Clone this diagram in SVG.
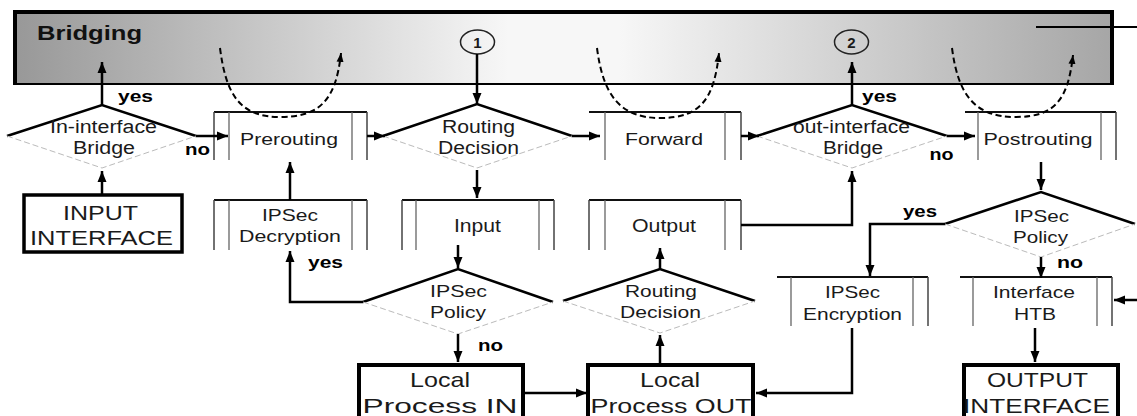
<svg xmlns="http://www.w3.org/2000/svg" width="1137" height="416" viewBox="0 0 1137 416">
<defs>
<linearGradient id="bg" x1="0" y1="0" x2="1" y2="0">
<stop offset="0" stop-color="#989898"/>
<stop offset="0.45" stop-color="#f7f7f7"/>
<stop offset="0.55" stop-color="#f7f7f7"/>
<stop offset="1" stop-color="#a6a6a6"/>
</linearGradient>
<marker id="ah" markerUnits="userSpaceOnUse" markerWidth="12" markerHeight="10" refX="11" refY="5" orient="auto">
<path d="M0,0.5 L11,5 L0,9.5 z" fill="#000"/>
</marker>
<marker id="ahs" markerUnits="userSpaceOnUse" markerWidth="10" markerHeight="8" refX="9" refY="4" orient="auto">
<path d="M0,0.5 L9,4 L0,7.5 z" fill="#000"/>
</marker>
</defs>
<style>
text{font-family:"Liberation Sans",Arial,sans-serif;fill:#1a1a1a;text-anchor:middle}
.t{font-size:17px}
.big{font-size:21px}
.lb{font-size:16px;font-weight:bold;fill:#000}
.top{fill:none;stroke:#000;stroke-width:2.5}
.bot{fill:none;stroke:#bbb;stroke-width:1;stroke-dasharray:6 3}
.bt{fill:none;stroke:#111;stroke-width:2}
.bo{fill:none;stroke:#444;stroke-width:1.5}
.bi{fill:none;stroke:#666;stroke-width:1.3}
.thick{fill:none;stroke:#000;stroke-width:4}
.c{fill:none;stroke:#000;stroke-width:2.5;marker-end:url(#ah)}
.cn{fill:none;stroke:#000;stroke-width:2.5}
.d{fill:none;stroke:#000;stroke-width:2;stroke-dasharray:6 3.5;marker-end:url(#ahs)}
</style>

<g id="bridging">
<rect x="15" y="12" width="1097" height="72" fill="url(#bg)" stroke="#000" stroke-width="2"/>
<rect x="13" y="10" width="1101" height="4" fill="#000"/>
<rect x="13" y="10" width="4" height="75" fill="#000"/>
<rect x="1110" y="10" width="4" height="75" fill="#000"/>
<text x="37" y="40" style="font-size:20px;font-weight:bold;text-anchor:start;fill:#111" textLength="105" lengthAdjust="spacingAndGlyphs">Bridging</text>
</g>

<g id="mark1">
<ellipse cx="477.5" cy="42" rx="17" ry="12" fill="none" stroke="#222" stroke-width="1.5"/>
<text x="477.5" y="47.5" style="font-size:15px;font-weight:bold">1</text>
</g>
<g id="mark2">
<ellipse cx="851.5" cy="42" rx="17" ry="12" fill="none" stroke="#222" stroke-width="1.5"/>
<text x="851.5" y="47.5" style="font-size:15px;font-weight:bold">2</text>
</g>

<g id="in-bridge">
<path class="top" d="M7,136 L102,105 L196,136"/>
<path class="bot" d="M7,136 L102,168 L196,136"/>
<text class="t" x="103.5" y="133" style="font-size:18px" textLength="107" lengthAdjust="spacingAndGlyphs">In-interface</text>
<text class="t" x="104" y="154" style="font-size:18px" textLength="62" lengthAdjust="spacingAndGlyphs">Bridge</text>
</g>

<g id="input-interface">
<rect class="thick" x="24" y="195" width="158" height="57" style="stroke-width:3.5"/>
<text class="big" x="100.5" y="220" textLength="75" lengthAdjust="spacingAndGlyphs">INPUT</text>
<text class="big" x="101.5" y="245" textLength="143" lengthAdjust="spacingAndGlyphs">INTERFACE</text>
</g>

<g id="prerouting">
<path class="bt" d="M214,112 H367"/>
<path class="bo" d="M214,112 V160 M367,112 V160"/>
<path class="bi" d="M229,112 V160 M352,112 V160"/>
<text class="t" x="289" y="144.5" textLength="98" lengthAdjust="spacingAndGlyphs">Prerouting</text>
</g>

<g id="routing1">
<path class="top" d="M383,136 L477,104 L572,136"/>
<path class="bot" d="M383,136 L477,168 L572,136"/>
<text class="t" x="478.5" y="133" style="font-size:18px" textLength="73" lengthAdjust="spacingAndGlyphs">Routing</text>
<text class="t" x="478.5" y="154" style="font-size:18px" textLength="81" lengthAdjust="spacingAndGlyphs">Decision</text>
</g>

<g id="forward">
<path class="bt" d="M589,112 H741"/>
<path class="bo" d="M741,112 V160"/>
<path class="bi" d="M605,112 V160 M725,112 V160"/>
<text class="t" x="664" y="144.5" textLength="78" lengthAdjust="spacingAndGlyphs">Forward</text>
</g>

<g id="out-bridge">
<path class="top" d="M757,136 L852,105 L947,136"/>
<path class="bot" d="M757,136 L852,168 L947,136"/>
<text class="t" x="851.5" y="133" style="font-size:18px" textLength="117" lengthAdjust="spacingAndGlyphs">out-interface</text>
<text class="t" x="853" y="154" style="font-size:18px" textLength="60" lengthAdjust="spacingAndGlyphs">Bridge</text>
</g>

<g id="postrouting">
<path class="bt" d="M965,112 H1116"/>
<path class="bo" d="M1116,112 V160"/>
<path class="bi" d="M978,112 V160 M1101,112 V160"/>
<text class="t" x="1038" y="144.5" textLength="109" lengthAdjust="spacingAndGlyphs">Postrouting</text>
</g>

<g id="ipsec-decryption">
<path class="bt" d="M214,200 H367"/>
<path class="bo" d="M214,200 V250 M367,200 V250"/>
<path class="bi" d="M229,200 V250 M352,200 V250"/>
<text class="t" x="290" y="221" textLength="56" lengthAdjust="spacingAndGlyphs">IPSec</text>
<text class="t" x="290" y="242" textLength="102" lengthAdjust="spacingAndGlyphs">Decryption</text>
</g>

<g id="input">
<path class="bt" d="M402,200 H554"/>
<path class="bo" d="M402,200 V250 M554,200 V250"/>
<path class="bi" d="M416,200 V250 M539,200 V250"/>
<text class="t" x="477.5" y="232" style="font-size:18px" textLength="47" lengthAdjust="spacingAndGlyphs">Input</text>
</g>

<g id="output">
<path class="bt" d="M589,200 H741"/>
<path class="bo" d="M589,200 V250 M741,200 V250"/>
<path class="bi" d="M605,200 V250 M725,200 V250"/>
<text class="t" x="664" y="232" style="font-size:18px" textLength="64" lengthAdjust="spacingAndGlyphs">Output</text>
</g>

<g id="ipsec-policy-in">
<path class="top" d="M363,302 L458,269 L553,302"/>
<path class="bot" d="M363,302 L458,334 L553,302"/>
<text class="t" x="458.5" y="297" textLength="57" lengthAdjust="spacingAndGlyphs">IPSec</text>
<text class="t" x="458" y="318" textLength="56" lengthAdjust="spacingAndGlyphs">Policy</text>
</g>

<g id="routing2">
<path class="top" d="M563,301 L660,269 L755,301"/>
<path class="bot" d="M563,301 L660,333 L755,301"/>
<text class="t" x="661" y="297" textLength="72" lengthAdjust="spacingAndGlyphs">Routing</text>
<text class="t" x="660.5" y="318" textLength="81" lengthAdjust="spacingAndGlyphs">Decision</text>
</g>

<g id="local-in">
<path class="thick" d="M359,418 V365 H523 V418"/>
<text class="big" x="440" y="387" textLength="60" lengthAdjust="spacingAndGlyphs">Local</text>
<text class="big" x="440" y="413" textLength="155" lengthAdjust="spacingAndGlyphs">Process IN</text>
</g>

<g id="local-out">
<path class="thick" d="M588,418 V365 H753 V418"/>
<text class="big" x="670" y="387" textLength="60" lengthAdjust="spacingAndGlyphs">Local</text>
<text class="big" x="671" y="413" textLength="161" lengthAdjust="spacingAndGlyphs">Process OUT</text>
</g>

<g id="ipsec-policy-out">
<path class="top" d="M945,224 L1041,192 L1135,224"/>
<path class="bot" d="M945,224 L1041,257 L1135,224"/>
<text class="t" x="1041.5" y="222" textLength="55" lengthAdjust="spacingAndGlyphs">IPSec</text>
<text class="t" x="1040.5" y="243" textLength="55" lengthAdjust="spacingAndGlyphs">Policy</text>
</g>

<g id="ipsec-encryption">
<path class="bt" d="M777,277 H928"/>
<path class="bo" d="M928,277 V326"/>
<path class="bi" d="M791,277 V326 M913,277 V326"/>
<text class="t" x="852.5" y="298" textLength="55" lengthAdjust="spacingAndGlyphs">IPSec</text>
<text class="t" x="852.5" y="320" textLength="99" lengthAdjust="spacingAndGlyphs">Encryption</text>
</g>

<g id="interface-htb">
<path class="bt" d="M960,277 H1112"/>
<path class="bo" d="M1112,277 V326"/>
<path class="bi" d="M973,277 V326 M1097,277 V326"/>
<text class="t" x="1034" y="298" textLength="82" lengthAdjust="spacingAndGlyphs">Interface</text>
<text class="t" x="1035" y="320" textLength="42" lengthAdjust="spacingAndGlyphs">HTB</text>
</g>

<g id="output-interface">
<path class="thick" d="M964,418 V365 H1118 V418"/>
<text class="big" x="1037.5" y="387" textLength="101" lengthAdjust="spacingAndGlyphs">OUTPUT</text>
<text class="big" x="1036.5" y="413" textLength="147" lengthAdjust="spacingAndGlyphs">INTERFACE</text>
</g>

<g id="connectors">
<path class="c" d="M102,195 V171"/>
<path class="c" d="M102,105 V62"/>
<path class="c" d="M196,136 H228"/>
<path class="c" d="M367,136 H385"/>
<path class="c" d="M477,54 V104"/>
<path class="c" d="M572,136 H600"/>
<path class="c" d="M477,170 V198"/>
<path class="c" d="M741,136 H759"/>
<path class="c" d="M852,105 V62"/>
<path class="c" d="M947,136 H975"/>
<path class="c" d="M1041,162 V190"/>
<path class="c" d="M945,224 H870 V276"/>
<path class="c" d="M1041,257 V278"/>
<path class="c" d="M1137,300 H1114"/>
<path class="c" d="M1035,328 V362"/>
<path class="c" d="M852,328 V393 H756"/>
<path class="c" d="M741,225 H852 V171"/>
<path class="c" d="M660,363 V335"/>
<path class="c" d="M660,269 V248"/>
<path class="c" d="M458,245 V268"/>
<path class="c" d="M363,302 H290 V251"/>
<path class="c" d="M458,334 V362"/>
<path class="c" d="M525,393 H587"/>
<path class="c" d="M290,200 V162"/>
<path class="cn" d="M1036,27 H1137" style="stroke-width:2"/>
<path class="d" d="M220,48 C226,95 240,117 280,117 C320,117 336,100 341,53"/>
<path class="d" d="M597,48 C603,95 620,118 660,118 C700,118 714,100 719,53"/>
<path class="d" d="M952,48 C958,95 975,117 1015,117 C1055,117 1068,100 1073,55"/>
<text class="lb" x="135.5" y="102" textLength="35" lengthAdjust="spacingAndGlyphs">yes</text>
<text class="lb" x="197.5" y="155" textLength="25" lengthAdjust="spacingAndGlyphs">no</text>
<text class="lb" x="879.5" y="102" textLength="35" lengthAdjust="spacingAndGlyphs">yes</text>
<text class="lb" x="941.5" y="160" textLength="24" lengthAdjust="spacingAndGlyphs">no</text>
<text class="lb" x="325.5" y="268" textLength="35" lengthAdjust="spacingAndGlyphs">yes</text>
<text class="lb" x="490.5" y="351" textLength="25" lengthAdjust="spacingAndGlyphs">no</text>
<text class="lb" x="920" y="217" textLength="34" lengthAdjust="spacingAndGlyphs">yes</text>
<text class="lb" x="1070" y="268" textLength="26" lengthAdjust="spacingAndGlyphs">no</text>
</g>
</svg>
